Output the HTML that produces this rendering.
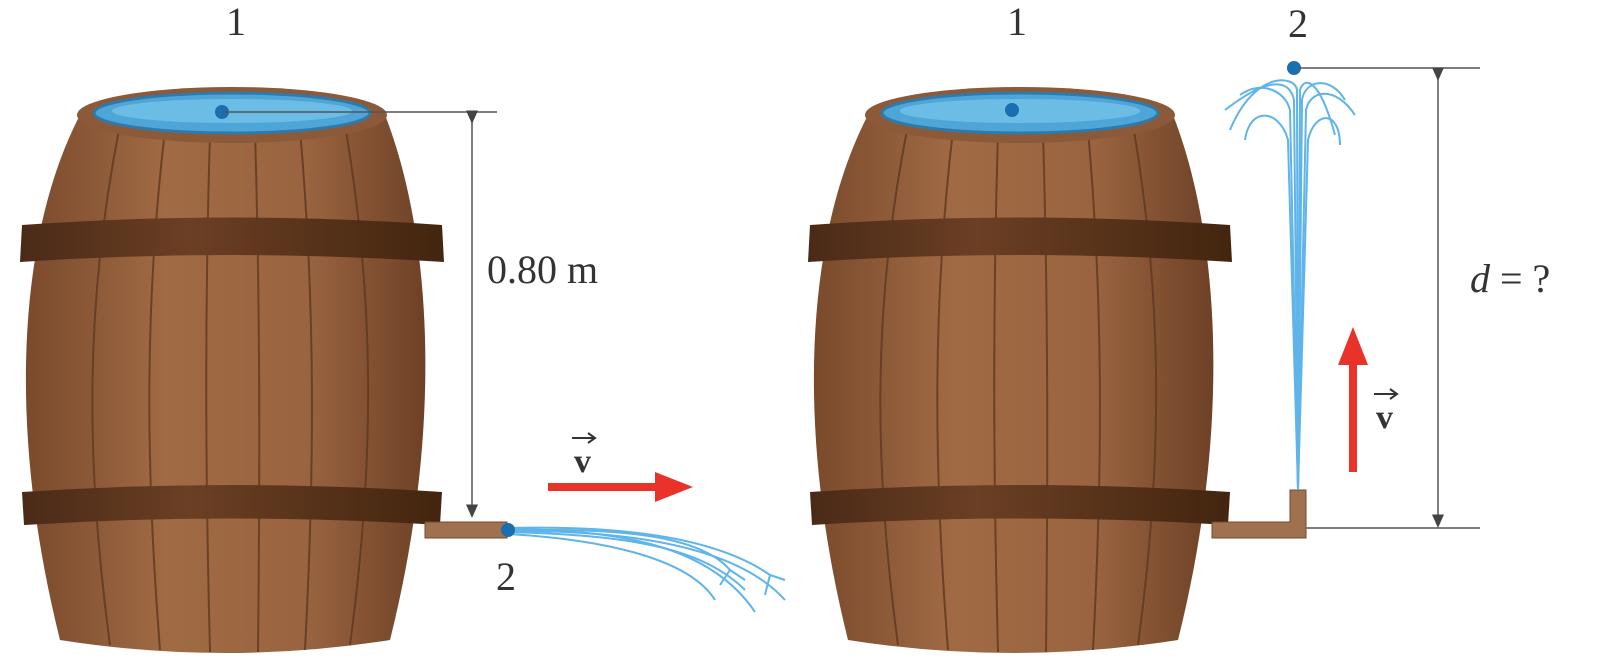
<!DOCTYPE html>
<html><head><meta charset="utf-8"><style>
html,body{margin:0;padding:0;background:#fff;}
svg{display:block}
text{font-family:"Liberation Serif",serif;fill:#333}
</style></head><body>
<svg width="1602" height="660" viewBox="0 0 1602 660">
<defs>
<linearGradient id="wood" x1="0" x2="1" y1="0" y2="0">
<stop offset="0" stop-color="#7a4a2c"/><stop offset="0.35" stop-color="#a06a44"/><stop offset="0.7" stop-color="#9a6440"/><stop offset="1" stop-color="#6e4126"/>
</linearGradient>
<linearGradient id="band" x1="0" x2="1"><stop offset="0" stop-color="#4a2a17"/><stop offset="0.4" stop-color="#6b3f24"/><stop offset="1" stop-color="#43250f"/></linearGradient>
<marker id="ah" markerWidth="10" markerHeight="10" refX="5" refY="5" orient="auto"><path d="M0,1 L9,5 L0,9 Z" fill="#444"/></marker>
<g id="barrel">
<path d="M80,115 C20,230 5,420 60,640 Q225,666 390,640 C445,420 430,230 385,115 Z" fill="url(#wood)"/>
<g stroke="#5e3820" stroke-width="2" fill="none" opacity="0.8">
<path d="M120,125 C85,300 85,460 110,645"/><path d="M165,130 C145,300 145,460 160,650"/>
<path d="M210,132 C205,300 205,460 210,652"/><path d="M255,132 C260,300 260,460 258,652"/>
<path d="M300,130 C315,300 315,460 305,650"/><path d="M345,125 C375,300 375,460 350,645"/>
</g>
<path d="M22,225 Q232,210 442,225 L444,262 Q232,248 20,262 Z" fill="url(#band)"/>
<path d="M22,492 Q232,478 442,492 L440,525 Q232,512 24,525 Z" fill="url(#band)"/>
<ellipse cx="232" cy="115" rx="155" ry="28" fill="#8c5a38"/>
<ellipse cx="232" cy="113" rx="138" ry="20" fill="#4ea6d8" stroke="#2f7aa8" stroke-width="3"/>
<ellipse cx="232" cy="111" rx="120" ry="12" fill="#6cbde6"/>
</g>
</defs>

<g><use href="#barrel"/></g>
<text x="236" y="35" font-size="40" text-anchor="middle">1</text>
<circle cx="222" cy="112" r="7" fill="#1a6fb0"/>
<line x1="222" y1="112" x2="497" y2="112" stroke="#555" stroke-width="1.5"/>
<line x1="472" y1="118" x2="472" y2="512" stroke="#555" stroke-width="1.5" marker-start="url(#ah)" marker-end="url(#ah)"/>
<text x="487" y="283" font-size="40">0.80 m</text>
<rect x="425" y="522" width="82" height="16" fill="#a0714f" stroke="#6e4a30"/>
<g stroke="#5fb4ea" stroke-width="2" fill="none">
<path d="M508,530 C620,528 700,535 730,570"/><path d="M508,532 C620,535 700,545 745,590"/>
<path d="M508,528 C630,525 720,540 770,575"/><path d="M508,534 C610,540 690,560 715,600"/>
<path d="M508,531 C640,530 740,550 785,600"/><path d="M508,529 C620,530 710,545 755,612"/>
<path d="M730,570 l-10,15 m10,-15 l15,10"/><path d="M770,575 l-5,20 m5,-20 l15,5"/>
</g>
<circle cx="508" cy="530" r="7" fill="#1a6fb0"/>
<text x="506" y="590" font-size="40" text-anchor="middle">2</text>
<path d="M548,483 L655,483 L655,472 L693,487 L655,502 L655,491 L548,491 Z" fill="#e8322a"/>
<text x="574" y="472" font-size="34" font-weight="bold">v</text>
<path d="M572,438 L594,438 M588,433 L595,438 L588,443" stroke="#333" stroke-width="2" fill="none"/>

<g transform="translate(788,0)"><use href="#barrel"/></g>
<text x="1017" y="35" font-size="40" text-anchor="middle">1</text>
<circle cx="1012" cy="110" r="7" fill="#1a6fb0"/>
<path d="M1212,522 L1290,522 L1290,490 L1306,490 L1306,538 L1212,538 Z" fill="#a0714f" stroke="#6e4a30"/>
<g stroke="#5fb4ea" stroke-width="2" fill="none">
<path d="M1298,490 L1290,110 C1285,90 1260,80 1240,95"/><path d="M1298,490 L1294,100 C1290,80 1270,75 1225,110"/>
<path d="M1298,490 L1302,100 C1305,80 1330,75 1345,100"/><path d="M1298,490 L1306,110 C1310,90 1335,85 1355,115"/>
<path d="M1298,490 L1297,90 C1295,75 1255,70 1230,130"/><path d="M1298,490 L1300,90 C1305,75 1320,80 1335,135"/>
<path d="M1298,490 L1288,140 C1280,110 1250,105 1245,140"/><path d="M1298,490 L1308,140 C1315,110 1340,110 1340,145"/>
</g>
<circle cx="1294" cy="68" r="7" fill="#1a6fb0"/>
<text x="1298" y="37" font-size="40" text-anchor="middle">2</text>
<line x1="1300" y1="68" x2="1480" y2="68" stroke="#555" stroke-width="1.5"/>
<line x1="1306" y1="528" x2="1480" y2="528" stroke="#555" stroke-width="1.5"/>
<line x1="1438" y1="75" x2="1438" y2="522" stroke="#555" stroke-width="1.5" marker-start="url(#ah)" marker-end="url(#ah)"/>
<text x="1470" y="292" font-size="40"><tspan font-style="italic">d</tspan> = ?</text>
<path d="M1349,472 L1349,365 L1338,365 L1353,327 L1368,365 L1357,365 L1357,472 Z" fill="#e8322a"/>
<text x="1376" y="428" font-size="34" font-weight="bold">v</text>
<path d="M1374,394 L1396,394 M1390,389 L1397,394 L1390,399" stroke="#333" stroke-width="2" fill="none"/>
</svg>
</body></html>
